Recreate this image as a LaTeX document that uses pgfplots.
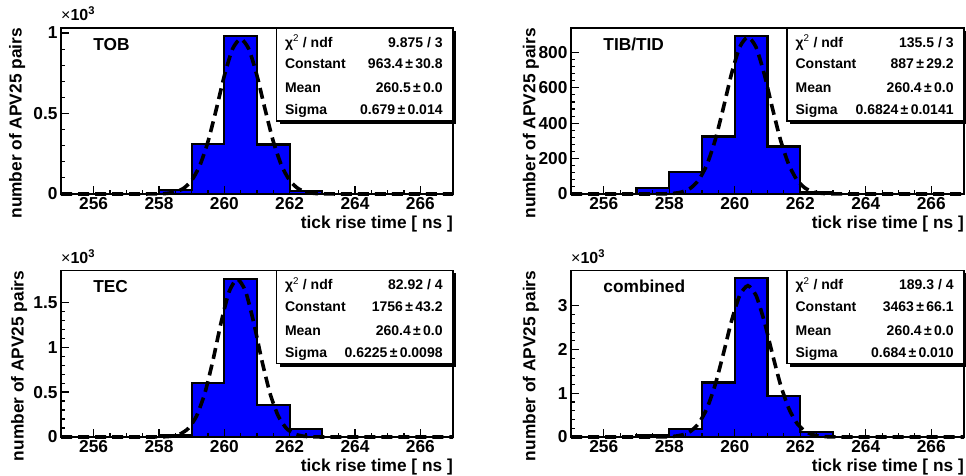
\documentclass[border=0pt]{standalone}
\usepackage{fontspec}
\setmainfont{Liberation Sans}
\usepackage{pgfplots}
\pgfplotsset{compat=1.18}
\usetikzlibrary{calc}

\newcommand{\bigf}{\fontsize{17.3bp}{20bp}\selectfont\bfseries}
\newcommand{\smallf}{\fontsize{14bp}{16bp}\selectfont\bfseries}
\newcommand{\scalef}{\fontsize{16bp}{18bp}\selectfont}

\pgfplotsset{
  rootstyle/.style={
    scale only axis,
    xmin=255, xmax=267, ymin=0,
    axis on top,
    clip=false,
    axis line style={line width=1.8bp},
    tick align=inside, tick pos=left,
    major tick length=8bp, minor tick length=4bp,
    every tick/.style={black, line width=1.1bp},
    xtick={256,258,...,266},
    minor x tick num=3,
    minor y tick num=4,
    font=\bigf,
    tick label style={font=\bigf},
    label style={font=\bigf},
    /pgf/number format/assume math mode=true,
    /pgf/number format/set thousands separator={},
    xlabel={tick rise time [ ns ]},
    ylabel={number of APV25 pairs},
    xlabel style={at={(axis description cs:1,-0.18)}, anchor=east, inner sep=0pt},
  },
  hist/.style={const plot, fill=blue, draw=black, line width=2.2bp, line join=miter},
  gaus/.style={smooth, tension=0.4, black, line width=3.6bp, dash pattern=on 11bp off 6bp},
}
\tikzset{
  statl/.style={anchor=west, font=\smallf, inner sep=0pt, text height=10bp, text depth=0bp},
  statr/.style={anchor=east, font=\smallf, inner sep=0pt, text height=10bp, text depth=0bp},
  scalel/.style={anchor=base west, inner sep=0pt, yshift=7bp, font=\scalef},
}

\newcommand{\statbox}[4]{%
  \fill[black] ($(rel axis cs:0.55,0.44)+(3bp,-3bp)$) rectangle ($(rel axis cs:1,1)+(3bp,-3bp)$);
  \filldraw[fill=white, draw=black, line width=1.5bp] (rel axis cs:0.55,0.44) rectangle (rel axis cs:1,1);
  \node[statl] at (rel axis cs:0.571,0.915) {χ\textsuperscript{\mdseries 2} / ndf};
  \node[statr] at (rel axis cs:0.974,0.915) {#1};
  \node[statl] at (rel axis cs:0.571,0.785) {Constant};
  \node[statr] at (rel axis cs:0.974,0.785) {#2};
  \node[statl] at (rel axis cs:0.571,0.64) {Mean};
  \node[statr] at (rel axis cs:0.974,0.64) {#3};
  \node[statl] at (rel axis cs:0.571,0.51) {Sigma};
  \node[statr] at (rel axis cs:0.974,0.51) {#4};
}
\newcommand{\scalelabel}{%
  \node[scalel] at (rel axis cs:0,1) {{\mdseries ×}{\bfseries 10\textsuperscript{3}}};
}

\begin{document}
\begin{tikzpicture}
\useasboundingbox (0,0) rectangle (966bp,476bp);

% ---------------- TOB ----------------
\begin{axis}[rootstyle, at={(61bp,282bp)}, anchor=south west, width=392bp, height=166bp,
  ymax=1031, ytick={0,500,1000}, yticklabels={0,0.5,1},
  ylabel style={at={(axis description cs:-0.112,1)}, anchor=east, inner sep=0pt}]
\addplot[hist] coordinates {(255,0)(256,0)(257,0)(258,25)(259,312)(260,982)(261,308)(262,17)(263,0)(264,0)(265,0)(266,0)(267,0)} \closedcycle;
\addplot[gaus] coordinates {(255,0)(257,0)(257.5,0.1)(258.0,1.1)(258.25,4.0)(258.5,12.6)(258.75,34.8)(259.0,84.0)(259.25,177.0)(259.5,325.7)(259.75,523.4)(260.0,734.6)(260.25,900.3)(260.5,963.4)(260.75,900.3)(261.0,734.6)(261.25,523.4)(261.5,325.7)(261.75,177.0)(262.0,84.0)(262.25,34.8)(262.5,12.6)(262.75,4.0)(263.0,1.1)(263.5,0.1)(264,0)(267,0)};
\node[anchor=west, inner sep=0pt, font=\bigf] at (rel axis cs:0.082,0.9) {TOB};
\statbox{9.875 / 3}{963.4\,±\,30.8}{260.5\,±\,0.0}{0.679\,±\,0.014}
\scalelabel
\end{axis}

% ---------------- TIB/TID ----------------
\begin{axis}[rootstyle, at={(571bp,282bp)}, anchor=south west, width=393bp, height=166bp,
  ymax=938, ytick={0,200,400,600,800}, yticklabels={0,200,400,600,800},
  ylabel style={at={(axis description cs:-0.102,1)}, anchor=east, inner sep=0pt}]
\addplot[hist] coordinates {(255,0)(256,0)(257,32)(258,123)(259,325)(260,894)(261,268)(262,9)(263,0)(264,0)(265,0)(266,0)(267,0)} \closedcycle;
\addplot[gaus] coordinates {(255,0)(256.9,0)(257.4,0.1)(257.9,1.1)(258.15,3.9)(258.4,12.1)(258.65,33.1)(258.9,79.2)(259.15,165.7)(259.4,303.1)(259.65,484.8)(259.9,678.2)(260.15,829.4)(260.4,887)(260.65,829.4)(260.9,678.2)(261.15,484.8)(261.4,303.1)(261.65,165.7)(261.9,79.2)(262.15,33.1)(262.4,12.1)(262.65,3.9)(262.9,1.1)(263.4,0.1)(263.9,0)(267,0)};
\node[anchor=west, inner sep=0pt, font=\bigf] at (rel axis cs:0.082,0.9) {TIB/TID};
\statbox{135.5 / 3}{887\,±\,29.2}{260.4\,±\,0.0}{0.6824\,±\,0.0141}
\end{axis}

% ---------------- TEC ----------------
\begin{axis}[rootstyle, at={(61bp,39bp)}, anchor=south west, width=392bp, height=166.5bp,
  ymax=1852, ytick={0,500,1000,1500}, yticklabels={0,0.5,1,1.5},
  ylabel style={at={(axis description cs:-0.107,1)}, anchor=east, inner sep=0pt}]
\addplot[hist] coordinates {(255,0)(256,0)(257,3)(258,18)(259,604)(260,1759)(261,352)(262,85)(263,0)(264,0)(265,0)(266,0)(267,0)} \closedcycle;
\addplot[gaus] coordinates {(255,0)(256.9,0)(257.4,0)(257.9,0.6)(258.15,2.6)(258.4,10.1)(258.65,33.8)(258.9,96.3)(259.15,233.9)(259.4,483.3)(259.65,849.7)(259.9,1271.9)(260.15,1619.9)(260.4,1756)(260.65,1619.9)(260.9,1271.9)(261.15,849.7)(261.4,483.3)(261.65,233.9)(261.9,96.3)(262.15,33.8)(262.4,10.1)(262.65,2.6)(262.9,0.6)(263.4,0)(263.9,0)(267,0)};
\node[anchor=west, inner sep=0pt, font=\bigf] at (rel axis cs:0.082,0.904) {TEC};
\statbox{82.92 / 4}{1756\,±\,43.2}{260.4\,±\,0.0}{0.6225\,±\,0.0098}
\scalelabel
\end{axis}

% ---------------- combined ----------------
\begin{axis}[rootstyle, at={(571bp,39bp)}, anchor=south west, width=393bp, height=166.5bp,
  ymax=3811, ytick={0,1000,2000,3000}, yticklabels={0,1,2,3},
  ylabel style={at={(axis description cs:-0.102,1)}, anchor=east, inner sep=0pt}]
\addplot[hist] coordinates {(255,0)(256,0)(257,40)(258,190)(259,1247)(260,3635)(261,945)(262,120)(263,3)(264,0)(265,0)(266,0)(267,0)} \closedcycle;
\addplot[gaus] coordinates {(255,0)(256.9,0)(257.4,0.2)(257.9,4.4)(258.15,15.5)(258.4,48.2)(258.65,131.2)(258.9,312.7)(259.15,652.1)(259.4,1189.5)(259.65,1898.4)(259.9,2650.9)(260.15,3239.3)(260.4,3463)(260.65,3239.3)(260.9,2650.9)(261.15,1898.4)(261.4,1189.5)(261.65,652.1)(261.9,312.7)(262.15,131.2)(262.4,48.2)(262.65,15.5)(262.9,4.4)(263.4,0.2)(263.9,0)(267,0)};
\node[anchor=west, inner sep=0pt, font=\bigf] at (rel axis cs:0.082,0.904) {combined};
\statbox{189.3 / 4}{3463\,±\,66.1}{260.4\,±\,0.0}{0.684\,±\,0.010}
\scalelabel
\end{axis}
\end{tikzpicture}
\end{document}
